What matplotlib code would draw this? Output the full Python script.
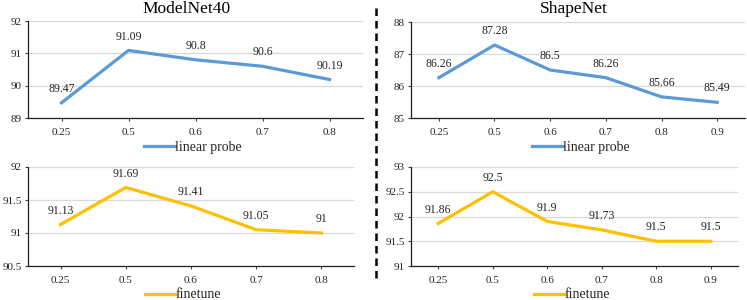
import matplotlib
matplotlib.use("Agg")
import matplotlib.pyplot as plt
from matplotlib.lines import Line2D

# mask ratios and accuracies
mn_ratios = ["0.25", "0.5", "0.6", "0.7", "0.8"]
sn_ratios = ["0.25", "0.5", "0.6", "0.7", "0.8", "0.9"]
mn_linear = [89.47, 91.09, 90.8, 90.6, 90.19]
sn_linear = [86.26, 87.28, 86.5, 86.26, 85.66, 85.49]
mn_finetune = [91.13, 91.69, 91.41, 91.05, 91.0]
sn_finetune = [91.86, 92.5, 91.9, 91.73, 91.5, 91.5]

BLUE = "#5B9BD5"
GOLD = "#FFC000"
TXT = "#262626"

plt.rcParams["font.family"] = ["Liberation Serif", "DejaVu Serif"]

W, H = 747, 300
fig = plt.figure(figsize=(W / 100, H / 100), dpi=100)


def px_axes(x0, y0, x1, y1):
    # pixel box (top-left origin) -> figure axes
    return fig.add_axes([x0 / W, 1 - y1 / H, (x1 - x0) / W, (y1 - y0) / H])


def panel(ax, labels, values, color, ylim, ystep, label):
    x = list(range(len(labels)))
    ax.plot(x, values, color=color, lw=2.3, solid_joinstyle="round", label=label, zorder=3)
    for xi, v in zip(x, values):
        ax.annotate(f"{v:g}", (xi, v), xytext=(0, 10), textcoords="offset points",
                    ha="center", va="center", fontsize=8.5, color=TXT)
    ax.set_xlim(-0.5, len(labels) - 0.5)
    ax.set_ylim(*ylim)
    ticks = []
    t = ylim[0]
    while t <= ylim[1] + 1e-9:
        ticks.append(t)
        t += ystep
    ax.set_yticks(ticks)
    ax.set_yticklabels([f"{t:g}" for t in ticks])
    ax.set_xticks(x)
    ax.set_xticklabels(labels)
    ax.tick_params(axis="x", direction="out", length=2.5, width=0.8, color="#404040",
                   labelsize=8, labelcolor=TXT, pad=5)
    ax.tick_params(axis="y", direction="out", length=2.5, width=0.8, color="#404040",
                   labelsize=8, labelcolor=TXT, pad=2)
    ax.grid(axis="y", color="#D9D9D9", lw=0.9, zorder=0)
    ax.set_axisbelow(True)
    for s in ["top", "right"]:
        ax.spines[s].set_visible(False)
    for s in ["left", "bottom"]:
        ax.spines[s].set_color("#202020")
        ax.spines[s].set_linewidth(0.9)


ax1 = px_axes(28, 21, 363, 118)
panel(ax1, mn_ratios, mn_linear, BLUE, (89, 92), 1, "linear probe")

ax2 = px_axes(411, 22, 745, 118)
panel(ax2, sn_ratios, sn_linear, BLUE, (85, 88), 1, "linear probe")

ax3 = px_axes(28, 167, 354, 266)
panel(ax3, mn_ratios, mn_finetune, GOLD, (90.5, 92), 0.5, "finetune")

ax4 = px_axes(411, 167, 738, 266)
panel(ax4, sn_ratios, sn_finetune, GOLD, (91, 93), 0.5, "finetune")

# titles, placed by pixel centre
fig.text(187 / W, 1 - 9 / H, "ModelNet40", ha="center", va="center", fontsize=12.5)
fig.text(574 / W, 1 - 9 / H, "ShapeNet", ha="center", va="center", fontsize=12.5)

legend_pos = [(ax1, 193, 147), (ax2, 581, 147), (ax3, 183, 295), (ax4, 572, 295)]
for ax, lx, ly in legend_pos:
    ax.legend(loc="center", bbox_to_anchor=(lx / W, 1 - ly / H), bbox_transform=fig.transFigure,
              frameon=False, fontsize=10, handlelength=2.2, handletextpad=0.0,
              borderpad=0, labelcolor=TXT)

# dashed separator between datasets
fig.add_artist(Line2D([376 / W, 376 / W], [1 - 278 / H, 1 - 7 / H], transform=fig.transFigure,
                      color="black", lw=1.8, ls=(0, (3, 2))))

fig.savefig("out.png", dpi=100)
